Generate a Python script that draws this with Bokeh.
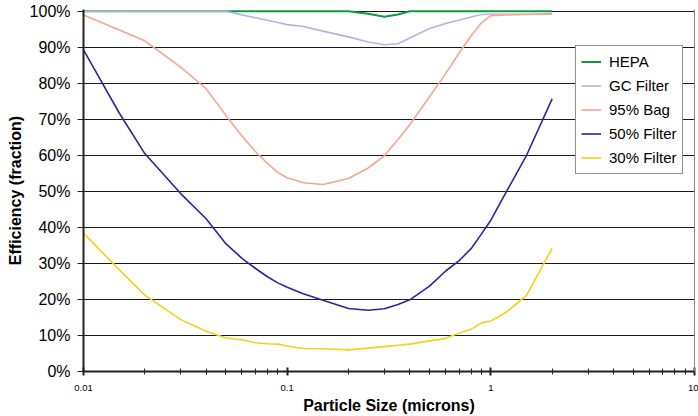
from bokeh.plotting import figure
from bokeh.models import (Legend, LegendItem, FixedTicker, PrintfTickFormatter,
                          CustomJSTickFormatter, LinearAxis, Range1d)
from bokeh.embed import file_html
from bokeh.resources import INLINE

# ---- data (efficiency in percent) ----
particle_size = [0.01, 0.015, 0.02, 0.03, 0.04, 0.05, 0.06, 0.07, 0.08, 0.09,
                 0.1, 0.12, 0.15, 0.2, 0.25, 0.3, 0.35, 0.4, 0.5, 0.6,
                 0.7, 0.8, 0.9, 1.0, 1.2, 1.5, 2.0]
hepa = [100, 100, 100, 100, 100, 100, 100, 100, 100, 100,
        100, 100, 100, 100, 99.3, 98.5, 99.1, 100, 100, 100,
        100, 100, 100, 100, 100, 100, 100]
gc_filter = [100, 100, 100, 100, 100, 100, 99.0, 98.2, 97.5, 96.9,
             96.3, 95.8, 94.5, 92.9, 91.5, 90.7, 91.0, 92.6, 95.2, 96.6,
             97.6, 98.4, 99.1, 99.2, 99.2, 99.2, 99.2]
bag_95 = [99.0, 94.8, 91.8, 84.5, 78.5, 71.1, 65.4, 61.0, 57.8, 55.2,
          53.8, 52.4, 51.9, 53.6, 56.5, 59.9, 64.4, 68.5, 76.3, 82.7,
          88.5, 93.2, 96.8, 98.8, 99.0, 99.1, 99.4]
filter_50 = [89.3, 71.7, 60.5, 49.4, 42.4, 35.5, 31.4, 28.6, 26.3, 24.6,
             23.4, 21.6, 19.8, 17.5, 17.0, 17.4, 18.6, 19.9, 23.7, 27.9,
             30.8, 34.1, 38.2, 42.0, 50.2, 60.1, 75.7]
filter_30 = [38.4, 28.2, 21.2, 14.4, 11.2, 9.3, 8.8, 8.0, 7.7, 7.6,
             7.1, 6.4, 6.3, 6.0, 6.5, 6.9, 7.3, 7.6, 8.5, 9.2,
             10.7, 11.7, 13.5, 14.0, 16.6, 21.2, 34.2]

series_names = ["HEPA", "GC Filter", "95% Bag", "50% Filter", "30% Filter"]
series_values = [hepa, gc_filter, bag_95, filter_50, filter_30]
series_colors = ["#0f9a3e", "#b6b4e2", "#f5a597", "#35209a", "#f3d21c"]
series_widths = [2, 1.6, 1.6, 1.6, 1.6]

y_ticks = [0, 10, 20, 30, 40, 50, 60, 70, 80, 90, 100]
x_major_ticks = [0.01, 0.1, 1, 10]
x_minor_ticks = [k * d for d in (0.01, 0.1, 1) for k in range(2, 10)]

FONT = "Liberation Sans"

p = figure(width=698, height=416, x_axis_type="log",
           x_range=Range1d(0.01, 10), y_range=Range1d(0, 100.5),
           output_backend="svg", toolbar_location=None,
           min_border_left=83, min_border_right=4,
           min_border_top=9, min_border_bottom=44)

p.outline_line_color = None
p.background_fill_color = "white"
p.border_fill_color = "white"

# grid
p.xgrid.visible = False
p.ygrid.grid_line_color = "#1a1a1a"
p.ygrid.grid_line_width = 1

# x axis
xa = p.xaxis[0]
xa.ticker = FixedTicker(ticks=x_major_ticks, minor_ticks=x_minor_ticks)
xa.formatter = CustomJSTickFormatter(code="return tick.toString();")
xa.axis_label = "Particle Size (microns)"
xa.axis_label_text_font = FONT
xa.axis_label_text_font_style = "bold"
xa.axis_label_text_font_size = "16px"
xa.axis_label_text_color = "black"
xa.axis_label_standoff = 3
xa.major_label_text_font = FONT
xa.major_label_text_font_size = "9.5px"
xa.major_label_text_color = "black"
xa.major_label_standoff = 9
xa.axis_line_color = "#222222"
xa.axis_line_width = 2
xa.major_tick_in = 4
xa.major_tick_out = 4
xa.minor_tick_in = 3
xa.minor_tick_out = 3
xa.major_tick_line_width = 2
xa.major_tick_line_color = "#222222"
xa.minor_tick_line_width = 1
xa.minor_tick_line_color = "#222222"

# y axis
ya = p.yaxis[0]
ya.ticker = FixedTicker(ticks=y_ticks)
ya.formatter = PrintfTickFormatter(format="%d%%")
ya.axis_label = "Efficiency (fraction)"
ya.axis_label_text_font = FONT
ya.axis_label_text_font_style = "bold"
ya.axis_label_text_font_size = "16px"
ya.axis_label_text_color = "black"
ya.axis_label_standoff = 3
ya.major_label_text_font = FONT
ya.major_label_text_font_size = "16px"
ya.major_label_text_color = "black"
ya.major_label_standoff = 7
ya.axis_line_color = "#222222"
ya.axis_line_width = 2
ya.major_tick_in = 0
ya.major_tick_out = 6
ya.major_tick_line_color = "#222222"
ya.minor_tick_in = 0
ya.minor_tick_out = 0

# right border line
rax = LinearAxis(ticker=FixedTicker(ticks=[]), axis_line_color="#8a8a8a",
                 axis_line_width=1, major_tick_in=0, major_tick_out=0,
                 minor_tick_in=0, minor_tick_out=0,
                 major_label_text_font_size="0px")
p.add_layout(rax, "right")

items = []
for name, vals, color, lw in zip(series_names, series_values, series_colors, series_widths):
    r = p.line(particle_size, vals, line_color=color, line_width=lw)
    items.append(LegendItem(label=name, renderers=[r]))

legend = Legend(items=items, location=(492, 197),
                label_text_font=FONT, label_text_font_size="15px",
                label_text_color="black",
                glyph_width=20, glyph_height=21, label_height=21,
                label_standoff=8, spacing=3, padding=5, margin=0,
                border_line_color="#222222", border_line_width=1,
                background_fill_color="white", background_fill_alpha=1)
p.add_layout(legend, "center")

open("out.html", "w").write(file_html(p, INLINE))
